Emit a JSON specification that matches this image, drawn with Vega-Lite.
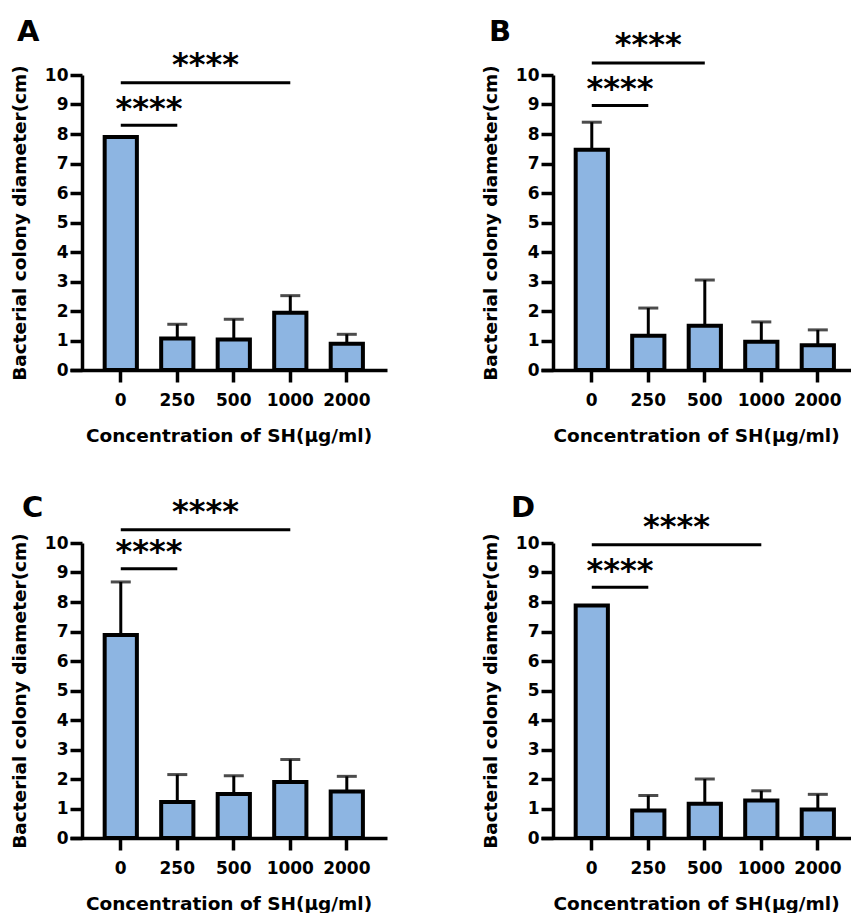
{
  "$schema": "https://vega.github.io/schema/vega-lite/v6.json",
  "padding": {"left": 10, "top": 18, "right": 0, "bottom": 0},
  "background": "white",
  "config": {
    "view": {"stroke": null},
    "font": "DejaVu Sans",
    "axis": {
      "domainColor": "black", "domainWidth": 3.5, "tickColor": "black", "tickWidth": 3.5, "tickSize": 12,
      "labelFont": "DejaVu Sans", "labelFontWeight": "bold", "labelFontSize": 17, "labelColor": "black",
      "titleFont": "DejaVu Sans", "titleFontWeight": "bold", "titleFontSize": 18.5, "titleColor": "black",
      "grid": false, "labelOverlap": false
    },
    "title": {"font": "DejaVu Sans", "fontWeight": "bold", "fontSize": 29, "color": "black", "anchor": "start", "frame": "group"}
  },
  "datasets": {
    "barsA": [
      {"conc": "0", "mean": 7.9},
      {"conc": "250", "mean": 1.07, "upper": 1.55},
      {"conc": "500", "mean": 1.03, "upper": 1.72},
      {"conc": "1000", "mean": 1.94, "upper": 2.52},
      {"conc": "2000", "mean": 0.89, "upper": 1.21}
    ],
    "sigA": [
      {"from": "0", "to": "250", "line": 8.3, "star": 8.52, "span": 1},
      {"from": "0", "to": "1000", "line": 9.74, "star": 9.99, "span": 3}
    ],
    "barsB": [
      {"conc": "0", "mean": 7.47, "upper": 8.4},
      {"conc": "250", "mean": 1.16, "upper": 2.1},
      {"conc": "500", "mean": 1.5, "upper": 3.05},
      {"conc": "1000", "mean": 0.96, "upper": 1.63},
      {"conc": "2000", "mean": 0.84, "upper": 1.36}
    ],
    "sigB": [
      {"from": "0", "to": "250", "line": 8.97, "star": 9.2, "span": 1},
      {"from": "0", "to": "500", "line": 10.41, "star": 10.67, "span": 2}
    ],
    "barsC": [
      {"conc": "0", "mean": 6.88, "upper": 8.68},
      {"conc": "250", "mean": 1.22, "upper": 2.15},
      {"conc": "500", "mean": 1.49, "upper": 2.11},
      {"conc": "1000", "mean": 1.9, "upper": 2.66},
      {"conc": "2000", "mean": 1.58, "upper": 2.09}
    ],
    "sigC": [
      {"from": "0", "to": "250", "line": 9.13, "star": 9.37, "span": 1},
      {"from": "0", "to": "1000", "line": 10.45, "star": 10.7, "span": 3}
    ],
    "barsD": [
      {"conc": "0", "mean": 7.88},
      {"conc": "250", "mean": 0.93, "upper": 1.44},
      {"conc": "500", "mean": 1.16, "upper": 2.0},
      {"conc": "1000", "mean": 1.27, "upper": 1.6},
      {"conc": "2000", "mean": 0.97, "upper": 1.48}
    ],
    "sigD": [
      {"from": "0", "to": "250", "line": 8.5, "star": 8.72, "span": 1},
      {"from": "0", "to": "1000", "line": 9.94, "star": 10.19, "span": 3}
    ]
  },
  "columns": 2,
  "bounds": "flush",
  "spacing": {"column": 154, "row": 173},
  "concat": [
    {
      "width": 317, "height": 295,
      "title": {"text": "A", "dx": -53, "offset": 1.9},
      "layer": [
        {
          "data": {"name": "barsA"},
          "mark": {"type": "bar", "fill": "#8db5e2", "stroke": "black", "strokeWidth": 4},
          "encoding": {
            "x": {"field": "conc", "type": "ordinal",
                  "scale": {"domain": ["0", "250", "500", "1000", "2000"], "paddingInner": 0.43, "paddingOuter": 0.52, "align": 0.59},
                  "axis": {"title": "Concentration of SH(μg/ml)", "labelAngle": 0, "labelPadding": 10, "titlePadding": 18}},
            "y": {"field": "mean", "type": "quantitative", "scale": {"domain": [0, 10], "nice": false},
                  "axis": {"title": "Bacterial colony diameter(cm)", "values": [0,1,2,3,4,5,6,7,8,9,10], "tickCount": 11, "offset": -12, "labelPadding": 2, "titlePadding": 15}}
          }
        },
        {
          "data": {"name": "barsA"},
          "transform": [{"filter": "isValid(datum.upper)"}],
          "mark": {"type": "rule", "color": "black", "strokeWidth": 3},
          "encoding": {"x": {"field": "conc", "type": "ordinal"}, "y": {"field": "mean", "type": "quantitative", "axis": {"title": "Bacterial colony diameter(cm)", "values": [0,1,2,3,4,5,6,7,8,9,10], "tickCount": 11, "offset": -12, "labelPadding": 2, "titlePadding": 15}}, "y2": {"field": "upper"}}
        },
        {
          "data": {"name": "barsA"},
          "transform": [{"filter": "isValid(datum.upper)"}],
          "mark": {"type": "tick", "color": "black", "thickness": 3, "size": 20, "orient": "horizontal"},
          "encoding": {"x": {"field": "conc", "type": "ordinal"}, "y": {"field": "upper", "type": "quantitative", "axis": {"title": "Bacterial colony diameter(cm)", "values": [0,1,2,3,4,5,6,7,8,9,10], "tickCount": 11, "offset": -12, "labelPadding": 2, "titlePadding": 15}}}
        },
        {
          "data": {"name": "sigA"},
          "mark": {"type": "rule", "color": "black", "strokeWidth": 3},
          "encoding": {"x": {"field": "from", "type": "ordinal"}, "x2": {"field": "to"}, "y": {"field": "line", "type": "quantitative", "axis": {"title": "Bacterial colony diameter(cm)", "values": [0,1,2,3,4,5,6,7,8,9,10], "tickCount": 11, "offset": -12, "labelPadding": 2, "titlePadding": 15}}}
        },
        {
          "data": {"name": "sigA"},
          "transform": [{"filter": "datum.span == 1"}],
          "mark": {"type": "text", "text": "****", "fontSize": 32, "fontWeight": "bold", "align": "center", "baseline": "alphabetic", "color": "black"},
          "encoding": {"x": {"field": "from", "type": "ordinal", "bandPosition": 1.377}, "y": {"field": "star", "type": "quantitative", "axis": {"title": "Bacterial colony diameter(cm)", "values": [0,1,2,3,4,5,6,7,8,9,10], "tickCount": 11, "offset": -12, "labelPadding": 2, "titlePadding": 15}}}
        },
        {
          "data": {"name": "sigA"},
          "transform": [{"filter": "datum.span == 3"}],
          "mark": {"type": "text", "text": "****", "fontSize": 32, "fontWeight": "bold", "align": "center", "baseline": "alphabetic", "color": "black"},
          "encoding": {"x": {"field": "from", "type": "ordinal", "bandPosition": 3.132}, "y": {"field": "star", "type": "quantitative", "axis": {"title": "Bacterial colony diameter(cm)", "values": [0,1,2,3,4,5,6,7,8,9,10], "tickCount": 11, "offset": -12, "labelPadding": 2, "titlePadding": 15}}}
        }
      ]
    },
    {
      "width": 310, "height": 295,
      "title": {"text": "B", "dx": -52, "offset": -18.1},
      "layer": [
        {
          "data": {"name": "barsB"},
          "mark": {"type": "bar", "fill": "#8db5e2", "stroke": "black", "strokeWidth": 4},
          "encoding": {
            "x": {"field": "conc", "type": "ordinal",
                  "scale": {"domain": ["0", "250", "500", "1000", "2000"], "paddingInner": 0.43, "paddingOuter": 0.458, "align": 0.67},
                  "axis": {"title": "Concentration of SH(μg/ml)", "labelAngle": 0, "labelPadding": 10, "titlePadding": 18}},
            "y": {"field": "mean", "type": "quantitative", "scale": {"domain": [0, 10], "nice": false},
                  "axis": {"title": "Bacterial colony diameter(cm)", "values": [0,1,2,3,4,5,6,7,8,9,10], "tickCount": 11, "offset": -12, "labelPadding": 2, "titlePadding": 15}}
          }
        },
        {
          "data": {"name": "barsB"},
          "transform": [{"filter": "isValid(datum.upper)"}],
          "mark": {"type": "rule", "color": "black", "strokeWidth": 3},
          "encoding": {"x": {"field": "conc", "type": "ordinal"}, "y": {"field": "mean", "type": "quantitative", "axis": {"title": "Bacterial colony diameter(cm)", "values": [0,1,2,3,4,5,6,7,8,9,10], "tickCount": 11, "offset": -12, "labelPadding": 2, "titlePadding": 15}}, "y2": {"field": "upper"}}
        },
        {
          "data": {"name": "barsB"},
          "transform": [{"filter": "isValid(datum.upper)"}],
          "mark": {"type": "tick", "color": "black", "thickness": 3, "size": 20, "orient": "horizontal"},
          "encoding": {"x": {"field": "conc", "type": "ordinal"}, "y": {"field": "upper", "type": "quantitative", "axis": {"title": "Bacterial colony diameter(cm)", "values": [0,1,2,3,4,5,6,7,8,9,10], "tickCount": 11, "offset": -12, "labelPadding": 2, "titlePadding": 15}}}
        },
        {
          "data": {"name": "sigB"},
          "mark": {"type": "rule", "color": "black", "strokeWidth": 3},
          "encoding": {"x": {"field": "from", "type": "ordinal"}, "x2": {"field": "to"}, "y": {"field": "line", "type": "quantitative", "axis": {"title": "Bacterial colony diameter(cm)", "values": [0,1,2,3,4,5,6,7,8,9,10], "tickCount": 11, "offset": -12, "labelPadding": 2, "titlePadding": 15}}}
        },
        {
          "data": {"name": "sigB"},
          "transform": [{"filter": "datum.span == 1"}],
          "mark": {"type": "text", "text": "****", "fontSize": 32, "fontWeight": "bold", "align": "center", "baseline": "alphabetic", "color": "black"},
          "encoding": {"x": {"field": "from", "type": "ordinal", "bandPosition": 1.377}, "y": {"field": "star", "type": "quantitative", "axis": {"title": "Bacterial colony diameter(cm)", "values": [0,1,2,3,4,5,6,7,8,9,10], "tickCount": 11, "offset": -12, "labelPadding": 2, "titlePadding": 15}}}
        },
        {
          "data": {"name": "sigB"},
          "transform": [{"filter": "datum.span == 2"}],
          "mark": {"type": "text", "text": "****", "fontSize": 32, "fontWeight": "bold", "align": "center", "baseline": "alphabetic", "color": "black"},
          "encoding": {"x": {"field": "from", "type": "ordinal", "bandPosition": 2.254}, "y": {"field": "star", "type": "quantitative", "axis": {"title": "Bacterial colony diameter(cm)", "values": [0,1,2,3,4,5,6,7,8,9,10], "tickCount": 11, "offset": -12, "labelPadding": 2, "titlePadding": 15}}}
        }
      ]
    },
    {
      "width": 317, "height": 295,
      "title": {"text": "C", "dx": -48, "offset": -27},
      "layer": [
        {
          "data": {"name": "barsC"},
          "mark": {"type": "bar", "fill": "#8db5e2", "stroke": "black", "strokeWidth": 4},
          "encoding": {
            "x": {"field": "conc", "type": "ordinal",
                  "scale": {"domain": ["0", "250", "500", "1000", "2000"], "paddingInner": 0.43, "paddingOuter": 0.52, "align": 0.59},
                  "axis": {"title": "Concentration of SH(μg/ml)", "labelAngle": 0, "labelPadding": 10, "titlePadding": 18}},
            "y": {"field": "mean", "type": "quantitative", "scale": {"domain": [0, 10], "nice": false},
                  "axis": {"title": "Bacterial colony diameter(cm)", "values": [0,1,2,3,4,5,6,7,8,9,10], "tickCount": 11, "offset": -12, "labelPadding": 2, "titlePadding": 15}}
          }
        },
        {
          "data": {"name": "barsC"},
          "transform": [{"filter": "isValid(datum.upper)"}],
          "mark": {"type": "rule", "color": "black", "strokeWidth": 3},
          "encoding": {"x": {"field": "conc", "type": "ordinal"}, "y": {"field": "mean", "type": "quantitative", "axis": {"title": "Bacterial colony diameter(cm)", "values": [0,1,2,3,4,5,6,7,8,9,10], "tickCount": 11, "offset": -12, "labelPadding": 2, "titlePadding": 15}}, "y2": {"field": "upper"}}
        },
        {
          "data": {"name": "barsC"},
          "transform": [{"filter": "isValid(datum.upper)"}],
          "mark": {"type": "tick", "color": "black", "thickness": 3, "size": 20, "orient": "horizontal"},
          "encoding": {"x": {"field": "conc", "type": "ordinal"}, "y": {"field": "upper", "type": "quantitative", "axis": {"title": "Bacterial colony diameter(cm)", "values": [0,1,2,3,4,5,6,7,8,9,10], "tickCount": 11, "offset": -12, "labelPadding": 2, "titlePadding": 15}}}
        },
        {
          "data": {"name": "sigC"},
          "mark": {"type": "rule", "color": "black", "strokeWidth": 3},
          "encoding": {"x": {"field": "from", "type": "ordinal"}, "x2": {"field": "to"}, "y": {"field": "line", "type": "quantitative", "axis": {"title": "Bacterial colony diameter(cm)", "values": [0,1,2,3,4,5,6,7,8,9,10], "tickCount": 11, "offset": -12, "labelPadding": 2, "titlePadding": 15}}}
        },
        {
          "data": {"name": "sigC"},
          "transform": [{"filter": "datum.span == 1"}],
          "mark": {"type": "text", "text": "****", "fontSize": 32, "fontWeight": "bold", "align": "center", "baseline": "alphabetic", "color": "black"},
          "encoding": {"x": {"field": "from", "type": "ordinal", "bandPosition": 1.377}, "y": {"field": "star", "type": "quantitative", "axis": {"title": "Bacterial colony diameter(cm)", "values": [0,1,2,3,4,5,6,7,8,9,10], "tickCount": 11, "offset": -12, "labelPadding": 2, "titlePadding": 15}}}
        },
        {
          "data": {"name": "sigC"},
          "transform": [{"filter": "datum.span == 3"}],
          "mark": {"type": "text", "text": "****", "fontSize": 32, "fontWeight": "bold", "align": "center", "baseline": "alphabetic", "color": "black"},
          "encoding": {"x": {"field": "from", "type": "ordinal", "bandPosition": 3.132}, "y": {"field": "star", "type": "quantitative", "axis": {"title": "Bacterial colony diameter(cm)", "values": [0,1,2,3,4,5,6,7,8,9,10], "tickCount": 11, "offset": -12, "labelPadding": 2, "titlePadding": 15}}}
        }
      ]
    },
    {
      "width": 310, "height": 295,
      "title": {"text": "D", "dx": -30, "offset": -12},
      "layer": [
        {
          "data": {"name": "barsD"},
          "mark": {"type": "bar", "fill": "#8db5e2", "stroke": "black", "strokeWidth": 4},
          "encoding": {
            "x": {"field": "conc", "type": "ordinal",
                  "scale": {"domain": ["0", "250", "500", "1000", "2000"], "paddingInner": 0.43, "paddingOuter": 0.458, "align": 0.67},
                  "axis": {"title": "Concentration of SH(μg/ml)", "labelAngle": 0, "labelPadding": 10, "titlePadding": 18}},
            "y": {"field": "mean", "type": "quantitative", "scale": {"domain": [0, 10], "nice": false},
                  "axis": {"title": "Bacterial colony diameter(cm)", "values": [0,1,2,3,4,5,6,7,8,9,10], "tickCount": 11, "offset": -12, "labelPadding": 2, "titlePadding": 15}}
          }
        },
        {
          "data": {"name": "barsD"},
          "transform": [{"filter": "isValid(datum.upper)"}],
          "mark": {"type": "rule", "color": "black", "strokeWidth": 3},
          "encoding": {"x": {"field": "conc", "type": "ordinal"}, "y": {"field": "mean", "type": "quantitative", "axis": {"title": "Bacterial colony diameter(cm)", "values": [0,1,2,3,4,5,6,7,8,9,10], "tickCount": 11, "offset": -12, "labelPadding": 2, "titlePadding": 15}}, "y2": {"field": "upper"}}
        },
        {
          "data": {"name": "barsD"},
          "transform": [{"filter": "isValid(datum.upper)"}],
          "mark": {"type": "tick", "color": "black", "thickness": 3, "size": 20, "orient": "horizontal"},
          "encoding": {"x": {"field": "conc", "type": "ordinal"}, "y": {"field": "upper", "type": "quantitative", "axis": {"title": "Bacterial colony diameter(cm)", "values": [0,1,2,3,4,5,6,7,8,9,10], "tickCount": 11, "offset": -12, "labelPadding": 2, "titlePadding": 15}}}
        },
        {
          "data": {"name": "sigD"},
          "mark": {"type": "rule", "color": "black", "strokeWidth": 3},
          "encoding": {"x": {"field": "from", "type": "ordinal"}, "x2": {"field": "to"}, "y": {"field": "line", "type": "quantitative", "axis": {"title": "Bacterial colony diameter(cm)", "values": [0,1,2,3,4,5,6,7,8,9,10], "tickCount": 11, "offset": -12, "labelPadding": 2, "titlePadding": 15}}}
        },
        {
          "data": {"name": "sigD"},
          "transform": [{"filter": "datum.span == 1"}],
          "mark": {"type": "text", "text": "****", "fontSize": 32, "fontWeight": "bold", "align": "center", "baseline": "alphabetic", "color": "black"},
          "encoding": {"x": {"field": "from", "type": "ordinal", "bandPosition": 1.377}, "y": {"field": "star", "type": "quantitative", "axis": {"title": "Bacterial colony diameter(cm)", "values": [0,1,2,3,4,5,6,7,8,9,10], "tickCount": 11, "offset": -12, "labelPadding": 2, "titlePadding": 15}}}
        },
        {
          "data": {"name": "sigD"},
          "transform": [{"filter": "datum.span == 3"}],
          "mark": {"type": "text", "text": "****", "fontSize": 32, "fontWeight": "bold", "align": "center", "baseline": "alphabetic", "color": "black"},
          "encoding": {"x": {"field": "from", "type": "ordinal", "bandPosition": 3.132}, "y": {"field": "star", "type": "quantitative", "axis": {"title": "Bacterial colony diameter(cm)", "values": [0,1,2,3,4,5,6,7,8,9,10], "tickCount": 11, "offset": -12, "labelPadding": 2, "titlePadding": 15}}}
        }
      ]
    }
  ]
}
